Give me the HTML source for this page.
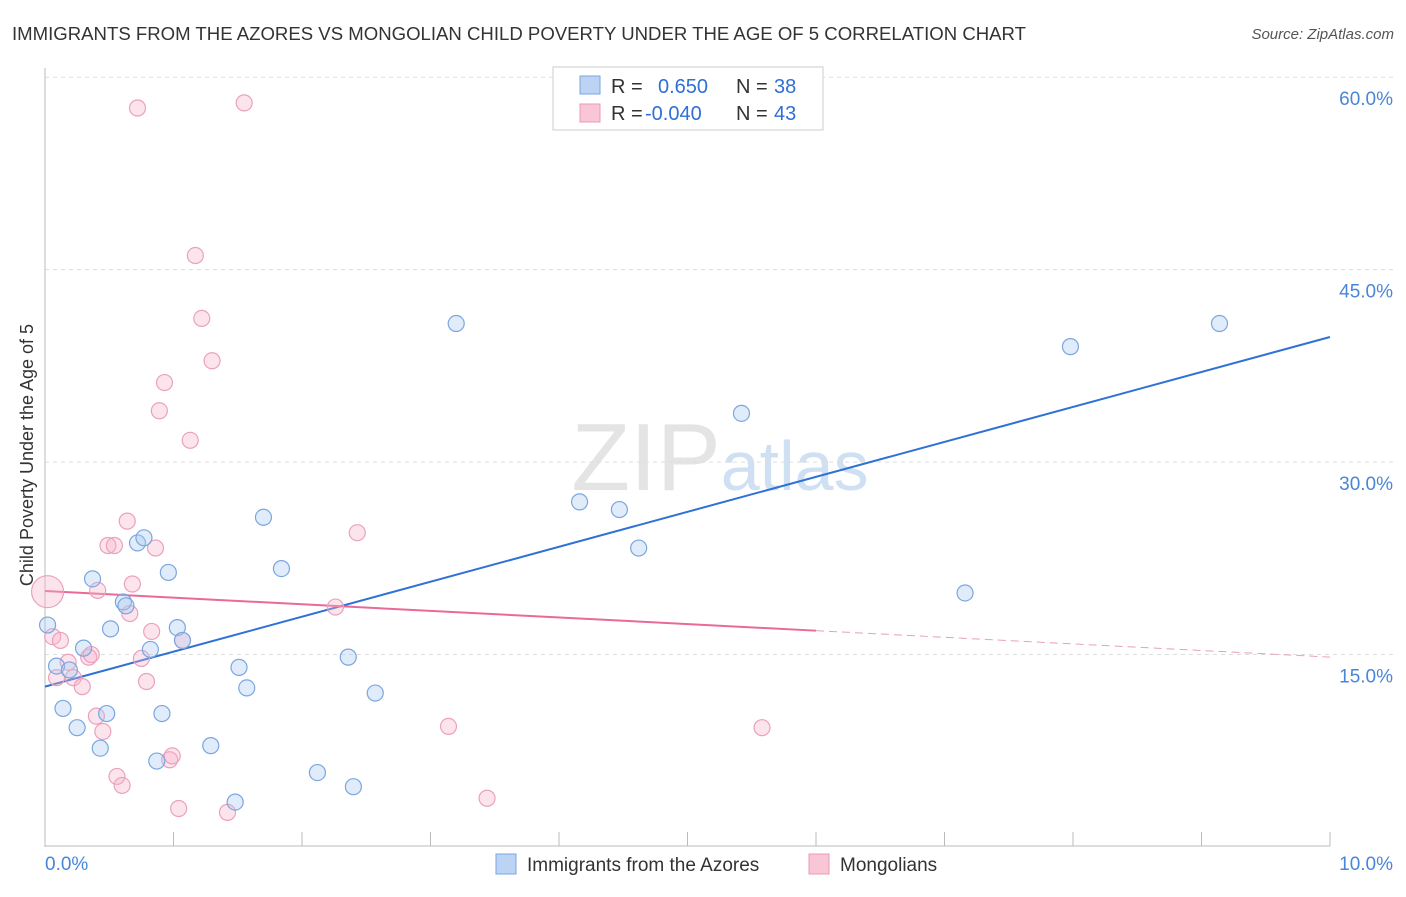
<!DOCTYPE html>
<html><head><meta charset="utf-8"><style>
body{margin:0;background:#fff;font-family:"Liberation Sans",sans-serif}
svg text{font-family:"Liberation Sans",sans-serif}
</style></head><body>
<svg id="chart" width="1406" height="892" viewBox="0 0 1406 892">
<text x="12" y="40" font-size="18" fill="#333" textLength="1014" lengthAdjust="spacingAndGlyphs">IMMIGRANTS FROM THE AZORES VS MONGOLIAN CHILD POVERTY UNDER THE AGE OF 5 CORRELATION CHART</text>
<text x="1394" y="39" font-size="15" fill="#555" text-anchor="end" font-style="italic">Source: ZipAtlas.com</text>
<text x="720" y="490" font-size="96" fill="#e4e4e4" text-anchor="middle" font-family="Liberation Serif">ZIP<tspan fill="#cfe0f3" font-family="Liberation Sans" font-size="70">atlas</tspan></text>
<g id="grid"></g><g id="axes"></g><g id="lines"></g><g id="pts"></g>
<text transform="translate(33,455) rotate(-90)" font-size="18" fill="#333" text-anchor="middle">Child Poverty Under the Age of 5</text>
<g>
<rect x="553" y="67" width="270" height="63" fill="#fff" stroke="#ccc"/>
<rect x="580" y="76" width="20" height="18" fill="#bcd4f4" stroke="#7aa6e0"/>
<rect x="580" y="104" width="20" height="18" fill="#f9c6d6" stroke="#e99ab4"/>
<text x="611" y="93" font-size="20" fill="#333">R = <tspan x="658" fill="#2f6fd6">0.650</tspan><tspan x="736" fill="#333">N = </tspan><tspan x="774" fill="#2f6fd6">38</tspan></text>
<text x="611" y="120" font-size="20" fill="#333">R = <tspan x="645" fill="#2f6fd6">-0.040</tspan><tspan x="736" fill="#333">N = </tspan><tspan x="774" fill="#2f6fd6">43</tspan></text>
</g>
<g>
<rect x="496" y="854" width="20" height="20" fill="#bcd4f4" stroke="#7aa6e0"/>
<text x="527" y="871" font-size="19" fill="#333">Immigrants from the Azores</text>
<rect x="809" y="854" width="20" height="20" fill="#f9c6d6" stroke="#e99ab4"/>
<text x="840" y="871" font-size="19" fill="#333">Mongolians</text>
</g>
</svg>
<script>
const blueX=[0.02,0.09,0.14,0.19,0.25,0.30,0.37,0.43,0.48,0.51,0.61,0.63,0.72,0.77,0.82,0.87,0.91,0.96,1.03,1.07,1.29,1.48,1.51,1.57,1.70,1.84,2.12,2.36,2.40,2.57,3.20,4.16,4.47,4.62,5.42,7.16,7.98,9.14];
const blueY=[17.3,14.1,10.8,13.8,9.3,15.5,20.9,7.7,10.4,17.0,19.1,18.8,23.7,24.1,15.4,6.7,10.4,21.4,17.1,16.1,7.9,3.5,14.0,12.4,25.7,21.7,5.8,14.8,4.7,12.0,40.8,26.9,26.3,23.3,33.8,19.8,39.0,40.8];
const pinkX=[0.02,0.06,0.12,0.09,0.18,0.22,0.29,0.34,0.36,0.40,0.41,0.45,0.49,0.54,0.56,0.60,0.64,0.66,0.68,0.72,0.75,0.79,0.83,0.86,0.89,0.93,0.97,0.99,1.04,1.07,1.13,1.17,1.22,1.30,1.42,1.55,2.26,2.43,3.14,3.44,5.58];
const pinkY=[19.9,16.4,16.1,13.2,14.4,13.2,12.5,14.8,15.0,10.2,20.0,9.0,23.5,23.5,5.5,4.8,25.4,18.2,20.5,57.6,14.7,12.9,16.8,23.3,34.0,36.2,6.8,7.1,3.0,16.1,31.7,46.1,41.2,37.9,2.7,58.0,18.7,24.5,9.4,3.8,9.3];
const yTicks=[15,30,45,60];
const blueTrend=[12.5,39.75];
const pinkTrend=[19.95,14.8];
const pinkSolidEnd=6.0;
const NS="http://www.w3.org/2000/svg";
const X=v=>45+v*128.5, Y=v=>847-v*12.83;
function mk(p,t,a){const e=document.createElementNS(NS,t);for(const k in a)e.setAttribute(k,a[k]);p.appendChild(e);return e;}
const grid=document.getElementById('grid'),axes=document.getElementById('axes'),lines=document.getElementById('lines'),pts=document.getElementById('pts');
yTicks.forEach(t=>{const l=mk(grid,'line',{x1:45,x2:1394,y1:Y(t),y2:Y(t),stroke:'#ddd','stroke-dasharray':'4,4'});


const tx=mk(grid,'text',{x:1393,y:Y(t)+28,'font-size':19,fill:'#4a86d8','text-anchor':'end'});tx.textContent=t.toFixed(1)+'%';

});
mk(axes,'line',{x1:45,x2:45,y1:68,y2:847,stroke:'#bbb'});
mk(axes,'line',{x1:45,x2:1330,y1:846,y2:846,stroke:'#bbb'});
for(let i=0;i<=10;i++){mk(axes,'line',{x1:X(i),x2:X(i),y1:832,y2:846,stroke:'#bbb'});}
const x0=mk(axes,'text',{x:45,y:870,'font-size':19,fill:'#4a86d8'});x0.textContent='0.0%';

const x1=mk(axes,'text',{x:1393,y:870,'font-size':19,fill:'#4a86d8','text-anchor':'end'});x1.textContent='10.0%';

function pt(x,y,fill,stroke,name,r){const c=mk(pts,'circle',{cx:X(x),cy:Y(y),r:r,fill:fill,stroke:stroke,'stroke-width':1.2});

}
pinkX.forEach((x,i)=>pt(x,pinkY[i],'rgba(246,178,202,0.35)','#eba1bb','mongolian-point',i==0?16:8));
blueX.forEach((x,i)=>pt(x,blueY[i],'rgba(170,200,240,0.35)','#7aa6e0','azores-point',8));
const bl=mk(lines,'line',{x1:X(0),y1:Y(blueTrend[0]),x2:X(10),y2:Y(blueTrend[1]),stroke:'#2f72d6','stroke-width':2});

const py=x=>pinkTrend[0]+(pinkTrend[1]-pinkTrend[0])*x/10;
const pl=mk(lines,'line',{x1:X(0),y1:Y(py(0)),x2:X(pinkSolidEnd),y2:Y(py(pinkSolidEnd)),stroke:'#e8699a','stroke-width':2});

const pd=mk(lines,'line',{x1:X(pinkSolidEnd),y1:Y(py(pinkSolidEnd)),x2:X(10),y2:Y(py(10)),stroke:'#e8a0bc','stroke-width':1,'stroke-dasharray':'8,5'});

</script>
</body></html>
